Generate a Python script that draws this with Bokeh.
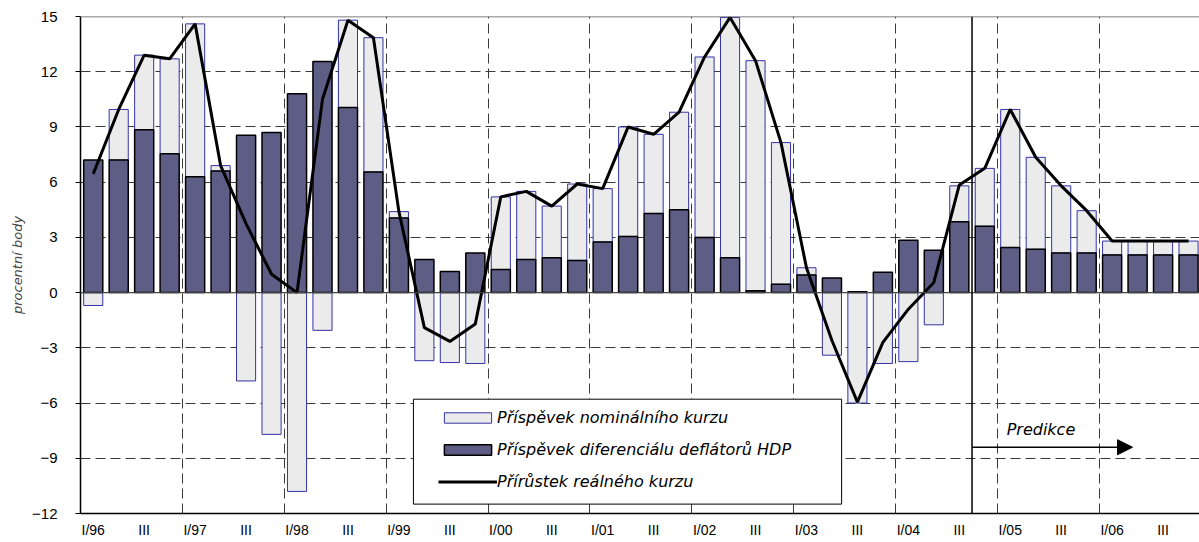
from bokeh.plotting import figure
from bokeh.models import (FixedTicker, Span, Arrow, NormalHead, Label, Legend,
                          LegendItem, BoxAnnotation)
from bokeh.embed import file_html
from bokeh.resources import INLINE

# ---- data (quarters I/96 .. IV/06) ----
quarters = ["I/96", "II/96", "III/96", "IV/96", "I/97", "II/97", "III/97", "IV/97",
            "I/98", "II/98", "III/98", "IV/98", "I/99", "II/99", "III/99", "IV/99",
            "I/00", "II/00", "III/00", "IV/00", "I/01", "II/01", "III/01", "IV/01",
            "I/02", "II/02", "III/02", "IV/02", "I/03", "II/03", "III/03", "IV/03",
            "I/04", "II/04", "III/04", "IV/04", "I/05", "II/05", "III/05", "IV/05",
            "I/06", "II/06", "III/06", "IV/06"]

deflator = [7.2, 7.2, 8.85, 7.55, 6.3, 6.6, 8.55, 8.7,
            10.8, 12.55, 10.05, 6.55, 4.05, 1.8, 1.15, 2.15,
            1.25, 1.8, 1.9, 1.75, 2.75, 3.05, 4.3, 4.5,
            3.0, 1.9, 0.1, 0.45, 0.95, 0.8, 0.05, 1.1,
            2.85, 2.3, 3.85, 3.6, 2.45, 2.35, 2.15, 2.15,
            2.05, 2.05, 2.05, 2.05]

nominal = [-0.7, 2.75, 4.05, 5.15, 8.3, 0.3, -4.8, -7.7,
           -10.8, -2.05, 4.75, 7.3, 0.35, -3.7, -3.8, -3.85,
           3.95, 3.7, 2.8, 4.15, 2.9, 5.95, 4.3, 5.3,
           9.8, 13.05, 12.5, 7.7, 0.4, -3.4, -6.0, -3.85,
           -3.75, -1.75, 1.95, 3.15, 7.5, 5.0, 3.65, 2.3,
           0.75, 0.75, 0.75, 0.75]

real = [6.45, 9.95, 12.9, 12.7, 14.6, 6.9, 3.75, 1.0,
        0.0, 10.5, 14.8, 13.85, 4.4, -1.9, -2.65, -1.7,
        5.2, 5.5, 4.7, 5.9, 5.65, 9.0, 8.6, 9.8,
        12.8, 14.95, 12.6, 8.15, 1.35, -2.6, -5.95, -2.7,
        -0.9, 0.55, 5.85, 6.75, 9.95, 7.35, 5.8, 4.45,
        2.8, 2.8, 2.8, 2.8]

tick_labels = ["I/96", "III", "I/97", "III", "I/98", "III", "I/99", "III",
               "I/00", "III", "I/01", "III", "I/02", "III", "I/03", "III",
               "I/04", "III", "I/05", "III", "I/06", "III"]
y_ticks = [-12, -9, -6, -3, 0, 3, 6, 9, 12, 15]

series_names = ["Příspěvek nominálního kurzu",
                "Příspěvek diferenciálu deflátorů HDP",
                "Přírůstek reálného kurzu"]
y_title = "procentní body"
forecast_label = "Predikce"
forecast_start = "IV/04"

# ---- derived ----
n = len(quarters)
x = list(range(n))
nom_bottom = [d if v >= 0 else 0 for d, v in zip(deflator, nominal)]
nom_top = [d + v if v >= 0 else v for d, v in zip(deflator, nominal)]

p = figure(width=1199, height=542, x_range=(-0.5, n - 0.57), y_range=(-12, 15),
           output_backend="svg", toolbar_location=None,
           min_border_left=80, min_border_right=0, min_border_top=16,
           min_border_bottom=29)
p.outline_line_color = None
p.background_fill_color = "white"

# axes
p.xaxis.ticker = FixedTicker(ticks=[2 * i for i in range(len(tick_labels))])
p.xaxis.major_label_overrides = {2 * i: lab for i, lab in enumerate(tick_labels)}
p.xaxis.major_tick_out = 0
p.xaxis.major_tick_in = 0
p.xaxis.minor_tick_out = 0
p.xaxis.minor_tick_in = 0
p.xaxis.major_label_standoff = 8
p.xaxis.major_label_text_font = "Liberation Sans"
p.xaxis.major_label_text_font_size = "14px"
p.xaxis.major_label_text_color = "black"
p.xaxis.axis_line_color = "black"
p.xaxis.axis_line_width = 1.5

p.yaxis.ticker = FixedTicker(ticks=y_ticks)
p.yaxis.major_tick_out = 5
p.yaxis.major_tick_in = 0
p.yaxis.minor_tick_out = 0
p.yaxis.minor_tick_in = 0
p.yaxis.major_label_standoff = 18
p.yaxis.major_label_text_font = "Liberation Sans"
p.yaxis.major_label_text_font_size = "15px"
p.yaxis.major_label_text_color = "black"
p.yaxis.axis_line_color = "black"
p.yaxis.axis_line_width = 1.5
p.yaxis.major_tick_line_color = "black"
p.yaxis.axis_label = y_title
p.yaxis.axis_label_text_font = "DejaVu Sans"
p.yaxis.axis_label_text_font_style = "italic"
p.yaxis.axis_label_text_font_size = "13px"
p.yaxis.axis_label_standoff = 4

# grids
p.ygrid.ticker = FixedTicker(ticks=[t for t in y_ticks if t not in (0, 15, -12)])
p.ygrid.grid_line_color = "#3a3a3a"
p.ygrid.grid_line_dash = "10 5"
p.ygrid.grid_line_width = 1
p.xgrid.ticker = FixedTicker(ticks=[k + 3.5 for k in range(0, n - 4, 4)])
p.xgrid.grid_line_color = "#3a3a3a"
p.xgrid.grid_line_dash = "10 5"
p.xgrid.grid_line_width = 1

# bars and line
r_nom = p.vbar(x=x, bottom=nom_bottom, top=nom_top, width=0.75,
               fill_color="#ebebeb", line_color="#3333a6", line_width=1)
r_def = p.vbar(x=x, bottom=0, top=deflator, width=0.75,
               fill_color="#5d5d85", line_color="black", line_width=1.5)
r_real = p.line(x, real, line_color="black", line_width=3)

# reference lines
p.add_layout(Span(location=0, dimension="width", line_color="#444444", line_width=1.2))
p.add_layout(Span(location=15, dimension="width", line_color="#555555", line_width=1.5))
fx = quarters.index(forecast_start) - 0.5
p.add_layout(Span(location=fx, dimension="height", line_color="black", line_width=1.5))

# forecast arrow + label
p.add_layout(Arrow(end=NormalHead(size=15, fill_color="black", line_color="black"),
                   x_start=fx, y_start=-8.4, x_end=40.8, y_end=-8.4,
                   line_color="black", line_width=1.5))
p.add_layout(Label(x=35.86, y=-7.42, text=forecast_label, text_font="DejaVu Sans",
                   text_font_style="italic", text_font_size="16px",
                   text_baseline="middle", text_align="left", text_color="black"))

# legend box + legend
p.add_layout(BoxAnnotation(left=12.57, right=29.38, top=-5.79, bottom=-11.49,
                           fill_color="white", fill_alpha=1.0,
                           line_color="black", line_width=1, line_alpha=1.0))
legend = Legend(items=[LegendItem(label=series_names[0], renderers=[r_nom]),
                       LegendItem(label=series_names[1], renderers=[r_def]),
                       LegendItem(label=series_names[2], renderers=[r_real])],
                location=(358, 22), padding=0, margin=0, spacing=13,
                glyph_width=59, glyph_height=13, label_height=13, label_standoff=0,
                border_line_alpha=0, background_fill_alpha=0,
                label_text_font="DejaVu Sans", label_text_font_style="italic",
                label_text_font_size="16px", label_text_color="black")
p.add_layout(legend)

open("out.html", "w").write(file_html(p, INLINE))
